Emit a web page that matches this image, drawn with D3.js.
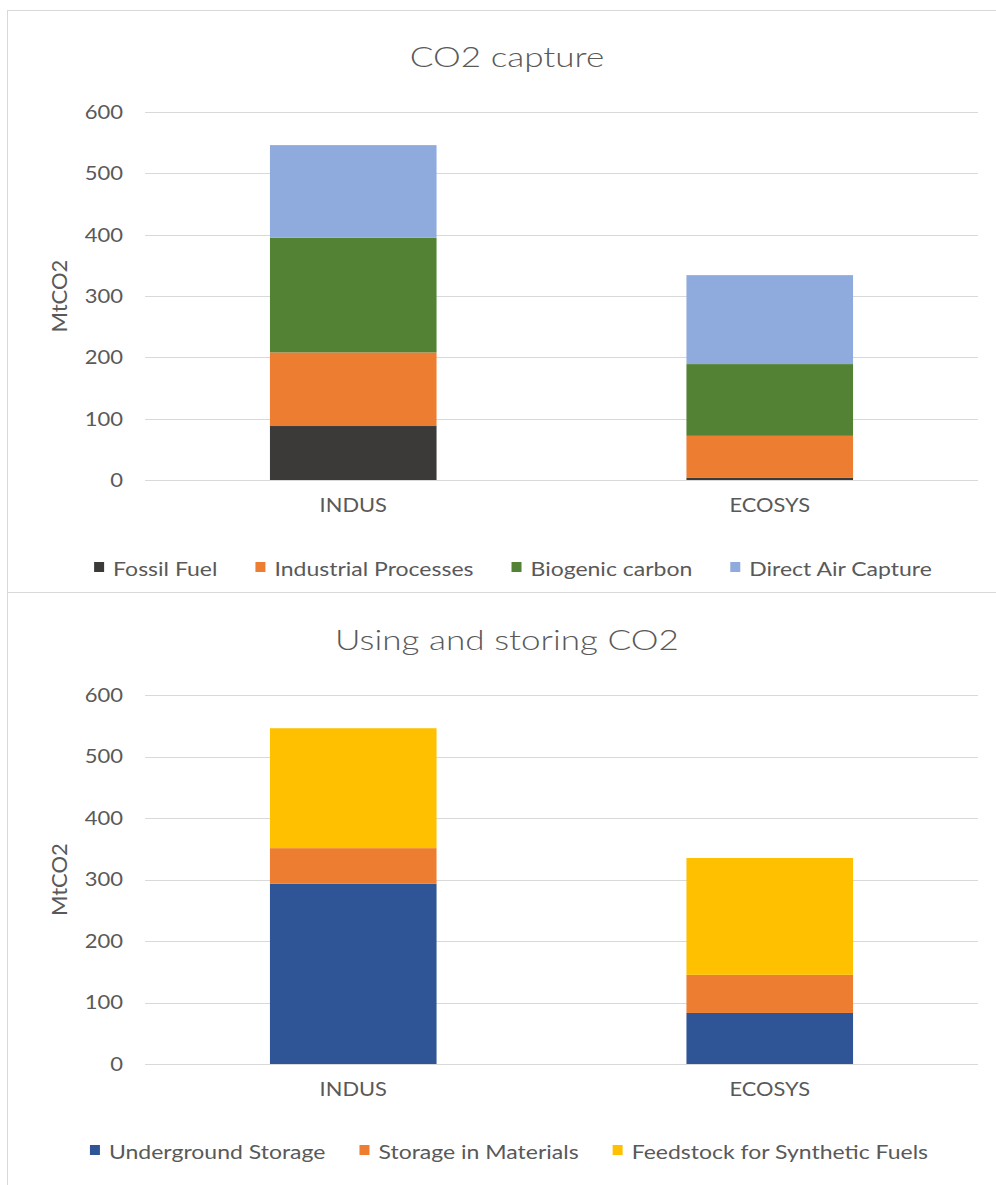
<!DOCTYPE html>
<html>
<head>
<meta charset="utf-8">
<script src="https://cdn.jsdelivr.net/npm/d3@7"></script>
<style>
  html, body { margin: 0; padding: 0; background: #ffffff; }
  svg { display: block; }
  text { font-family: Lato, "Open Sans", sans-serif; fill: #595959; }
</style>
</head>
<body>
<svg id="chart" width="996" height="1185"></svg>
<script>
// Scenario categories on the x axis
const categories = ["INDUS", "ECOSYS"];
const yTicks = [0, 100, 200, 300, 400, 500, 600];

// CO2 capture by source (MtCO2)
const captureSeries = ["Fossil Fuel", "Industrial Processes", "Biogenic carbon", "Direct Air Capture"];
const fossilFuel = [88, 4];
const industrialProcesses = [120, 68];
const biogenicCarbon = [187, 117];
const directAirCapture = [151, 145];
const captureColors = ["#3b3a38", "#ED7D31", "#548235", "#8FAADC"];

// Use and storage of captured CO2 (MtCO2)
const useSeries = ["Underground Storage", "Storage in Materials", "Feedstock for Synthetic Fuels"];
const undergroundStorage = [293, 83];
const storageInMaterials = [58, 62];
const feedstockSyntheticFuels = [195, 190];
const useColors = ["#2F5597", "#ED7D31", "#FFC000"];

// Horizontal stretch applied to text so the lettering keeps the wide office-chart look
const TITLE_SX = 1.3, TICK_SX = 1.1, CAT_SX = 1.15, LEGEND_SX = 1.15;

const svg = d3.select("#chart");

// Panel frames
svg.append("rect").attr("x", 7.5).attr("y", 10.5).attr("width", 1000).attr("height", 582)
  .attr("fill", "#fff").attr("stroke", "#d9d9d9");
svg.append("rect").attr("x", 7.5).attr("y", 592.5).attr("width", 1000).attr("height", 600)
  .attr("fill", "#fff").attr("stroke", "#d9d9d9");

function drawPanel(opt) {
  const g = svg.append("g");
  const rows = categories.map((c, i) => {
    const r = { category: c };
    opt.series.forEach((s, k) => { r[s] = opt.values[k][i]; });
    return r;
  });

  const x = d3.scaleBand().domain(categories).range([145, 978]).paddingInner(0.6).paddingOuter(0.3);
  const y = d3.scaleLinear().domain([0, 600]).range([opt.y0, opt.y600]);

  // Title
  g.append("text")
    .attr("transform", `translate(507,${opt.titleY}) scale(${TITLE_SX},1)`)
    .attr("text-anchor", "middle")
    .style("font-size", "27px").style("font-weight", 300).text(opt.title);

  // Gridlines
  g.append("g").selectAll("line").data(yTicks).join("line")
    .attr("x1", 145).attr("x2", 978)
    .attr("y1", d => Math.round(y(d)) + 0.5).attr("y2", d => Math.round(y(d)) + 0.5)
    .attr("stroke", "#d9d9d9").attr("stroke-width", 1);

  // Y axis tick labels
  const yAxis = d3.axisLeft(y).tickValues(yTicks).tickSize(0).tickPadding(0);
  const ya = g.append("g").attr("transform", "translate(123,0)").call(yAxis);
  ya.select(".domain").remove();
  ya.selectAll("text")
    .attr("x", 0)
    .attr("transform", `scale(${TICK_SX},1)`)
    .style("font-size", "20px").style("font-family", "Lato, sans-serif").attr("fill", "#595959");

  // Y axis title
  g.append("text")
    .attr("transform", `translate(67,${(opt.y0 + opt.y600) / 2}) rotate(-90)`)
    .attr("text-anchor", "middle").style("font-size", "22px").text("MtCO2");

  // Stacked bars
  const stack = d3.stack().keys(opt.series)(rows);
  g.append("g").selectAll("g").data(stack).join("g")
    .attr("fill", (d, i) => opt.colors[i])
    .selectAll("rect").data(d => d).join("rect")
    .attr("x", d => x(d.data.category))
    .attr("width", x.bandwidth())
    .attr("y", d => y(d[1]))
    .attr("height", d => y(d[0]) - y(d[1]));

  // Category labels
  const xAxis = d3.axisBottom(x).tickSize(0).tickPadding(0);
  const xa = g.append("g").attr("transform", `translate(0,${opt.y0 + 19})`).call(xAxis);
  xa.select(".domain").remove();
  xa.selectAll("text")
    .attr("transform", `scale(${CAT_SX},1)`)
    .style("font-size", "19px").style("font-family", "Lato, sans-serif").attr("fill", "#595959");

  // Legend
  const lg = g.append("g");
  const items = lg.selectAll("g").data(opt.series).join("g");
  items.append("rect").attr("width", 10).attr("height", 10).attr("y", opt.legendY - 14)
    .attr("fill", (d, i) => opt.colors[i]);
  items.append("text")
    .attr("transform", `translate(19,${opt.legendY}) scale(${LEGEND_SX},1)`)
    .style("font-size", "20px").text(d => d);
  const widths = [];
  items.each(function () {
    widths.push(19 + LEGEND_SX * this.querySelector("text").getComputedTextLength());
  });
  const gap = opt.legendGap;
  const total = d3.sum(widths) + gap * (widths.length - 1);
  let cx = opt.legendCenter - total / 2;
  items.attr("transform", (d, i) => {
    const t = `translate(${cx},0)`;
    cx += widths[i] + gap;
    return t;
  });
}

drawPanel({
  title: "CO2 capture", titleY: 67,
  y0: 480, y600: 112,
  series: captureSeries,
  values: [fossilFuel, industrialProcesses, biogenicCarbon, directAirCapture],
  colors: captureColors,
  legendY: 576, legendCenter: 513, legendGap: 38
});

drawPanel({
  title: "Using and storing CO2", titleY: 650,
  y0: 1064, y600: 695,
  series: useSeries,
  values: [undergroundStorage, storageInMaterials, feedstockSyntheticFuels],
  colors: useColors,
  legendY: 1159, legendCenter: 509, legendGap: 34
});
</script>
</body>
</html>
